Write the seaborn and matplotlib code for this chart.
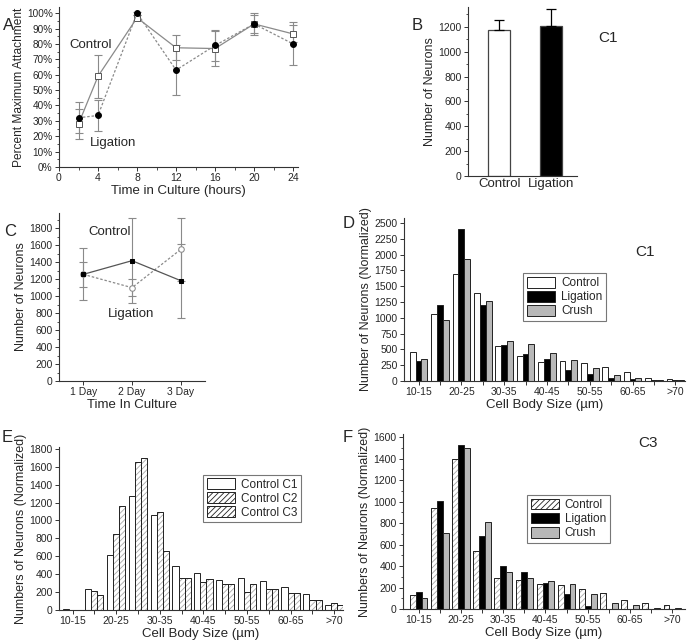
import numpy as np
import pandas as pd
import matplotlib
matplotlib.use("Agg")
import matplotlib.pyplot as plt
import seaborn as sns
from matplotlib.patches import Patch, Rectangle
from matplotlib.ticker import MultipleLocator, PercentFormatter

# ---------------- data ----------------
hours = [2, 4, 8, 12, 16, 20, 24]
attach_control = [28, 59, 97, 77.5, 77, 93, 86.5]
attach_control_err = [9.5, 14, 1.5, 8.2, 11.5, 7, 5.5]
attach_ligation = [32, 33.5, 100, 63, 79, 93, 80]
attach_ligation_err = [10, 10, 1, 16.5, 10, 6, 14]

b_groups = ["Control", "Ligation"]
b_values = [1175, 1205]
b_err = [80, 140]

days = ["1 Day", "2 Day", "3 Day"]
day_control = [1257, 1418, 1183]
day_control_err = [305, 500, 436]
day_ligation = [1257, 1100, 1550]
day_ligation_err = [150, 100, 375]

size_cats = ["10-15", "15-20", "20-25", "25-30", "30-35", "35-40", "40-45",
             "45-50", "50-55", "55-60", "60-65", "65-70", ">70"]

d_control = [460, 1060, 1690, 1400, 547, 390, 305, 318, 286, 224, 146, 42, 26]
d_ligation = [318, 1210, 2410, 1210, 568, 432, 354, 172, 104, 52, 26, 14, 8]
d_crush = [354, 960, 1930, 1270, 640, 578, 436, 339, 198, 89, 42, 10, 14]

e_c1 = [10, 230, 615, 1270, 1060, 490, 410, 336, 354, 325, 261, 179, 56]
e_c2 = [0, 216, 847, 1653, 1097, 362, 310, 291, 205, 231, 187, 112, 75]
e_c3 = [0, 168, 1157, 1694, 664, 362, 343, 291, 291, 239, 187, 112, 56]

f_control = [131, 941, 1393, 539, 287, 271, 231, 225, 184, 146, 84, 53, 37]
f_ligation = [162, 1009, 1523, 676, 396, 340, 240, 140, 28, 0, 0, 0, 0]
f_crush = [103, 707, 1502, 810, 343, 293, 262, 234, 140, 53, 37, 12, 12]

# ---------------- style ----------------
sns.set_theme(style="ticks")
plt.rcParams["font.family"] = ["Liberation Sans", "DejaVu Sans"]
plt.rcParams["hatch.linewidth"] = 0.6
plt.rcParams["axes.linewidth"] = 0.8

SPINE = "#333333"
TICK_FS = 7.5
LAB_FS = 9
GRAY = "#8a8a8a"

fig = plt.figure(figsize=(6.9, 6.42), dpi=100)


def px_axes(x0, x1, ytop, ybot):
    W, H = 690.0, 642.0
    return fig.add_axes([x0 / W, (H - ybot) / H, (x1 - x0) / W, (ybot - ytop) / H])


def style(ax):
    sns.despine(ax=ax)
    for s in ("left", "bottom"):
        ax.spines[s].set_color(SPINE)
        ax.spines[s].set_linewidth(0.8)
    ax.tick_params(axis="both", which="major", length=3, width=0.7,
                   color=SPINE, labelsize=TICK_FS, pad=1.5, direction="out")
    ax.tick_params(axis="both", which="minor", length=1.8, width=0.6,
                   color=SPINE, direction="out")
    ax.set_facecolor("white")


def letter(x, y, s):
    fig.text(x / 690.0, 1 - y / 642.0, s, fontsize=12, ha="left", va="center")


# ---------------- Panel A ----------------
axA = px_axes(59, 298, 7, 167)
style(axA)
axA.errorbar(hours, attach_control, yerr=attach_control_err, fmt="none",
             ecolor=GRAY, elinewidth=0.8, capsize=3, capthick=0.8, zorder=1)
axA.errorbar(hours, attach_ligation, yerr=attach_ligation_err, fmt="none",
             ecolor=GRAY, elinewidth=0.8, capsize=3, capthick=0.8, zorder=1)
sns.lineplot(x=hours, y=attach_control, ax=axA, color=GRAY, linewidth=0.9,
             marker="s", markersize=4, markerfacecolor="white",
             markeredgecolor="#555555", markeredgewidth=0.7, zorder=3)
sns.lineplot(x=hours, y=attach_ligation, ax=axA, color=GRAY, linewidth=0.9,
             linestyle=(0, (2, 1.5)), marker="o", markersize=4.2,
             markerfacecolor="black", markeredgecolor="black", zorder=4)
axA.set_xlim(0, 24.5)
axA.set_ylim(0, 104)
axA.set_xticks([0, 4, 8, 12, 16, 20, 24])
axA.xaxis.set_minor_locator(MultipleLocator(2))
axA.set_yticks(np.arange(0, 101, 10))
axA.yaxis.set_major_formatter(PercentFormatter(decimals=0))
axA.yaxis.set_minor_locator(MultipleLocator(5))
axA.tick_params(axis="y", labelsize=7.2)
axA.set_xlabel("Time in Culture (hours)", fontsize=9.5, labelpad=1)
axA.set_ylabel("Percent Maximum Attachment", fontsize=8.6, labelpad=1)
axA.text(3.2, 79.6, "Control", fontsize=9.5, ha="center", va="center")
axA.text(5.5, 15.8, "Ligation", fontsize=9.5, ha="center", va="center")
letter(3, 26, "A")

# ---------------- Panel B ----------------
axB = px_axes(468, 577, 7, 176)
style(axB)
sns.barplot(x=b_groups, y=b_values, hue=b_groups, palette=["white", "black"],
            saturation=1, width=0.42, edgecolor="#444444", linewidth=0.9,
            ax=axB, legend=False)
axB.errorbar(range(len(b_groups)), b_values,
             yerr=[[0] * len(b_err), b_err], fmt="none", ecolor="black",
             elinewidth=0.9, capsize=3.5, capthick=0.9)
axB.set_xlim(-0.6, 1.5)
axB.set_ylim(0, 1360)
axB.set_yticks(np.arange(0, 1201, 200))
axB.yaxis.set_minor_locator(MultipleLocator(100))
axB.tick_params(axis="x", labelsize=9.5, length=0)
axB.set_xlabel("")
axB.set_ylabel("Number of Neurons", fontsize=LAB_FS, labelpad=2)
fig.text(608 / 690, 1 - 38 / 642, "C1", fontsize=11, ha="center", va="center")
letter(412, 26, "B")

# ---------------- Panel C ----------------
axC = px_axes(59, 205, 213, 381)
style(axC)
xpos = np.arange(1, len(days) + 1)
axC.errorbar(xpos, day_control, yerr=day_control_err, fmt="none",
             ecolor=GRAY, elinewidth=0.8, capsize=3, capthick=0.8, zorder=1)
axC.errorbar(xpos, day_ligation, yerr=day_ligation_err, fmt="none",
             ecolor=GRAY, elinewidth=0.8, capsize=3, capthick=0.8, zorder=1)
sns.lineplot(x=xpos, y=day_control, ax=axC, color="#555555", linewidth=0.9,
             marker="s", markersize=3.5, markerfacecolor="black",
             markeredgecolor="black", zorder=3)
sns.lineplot(x=xpos, y=day_ligation, ax=axC, color=GRAY, linewidth=0.9,
             linestyle=(0, (2, 1.5)), marker="o", markersize=4,
             markerfacecolor="white", markeredgecolor=GRAY, zorder=2)
axC.set_xlim(0.5, 3.5)
axC.set_ylim(0, 1980)
axC.set_xticks(xpos)
axC.set_xticklabels(days)
axC.set_yticks(np.arange(0, 1801, 200))
axC.yaxis.set_minor_locator(MultipleLocator(100))
axC.set_xlabel("Time In Culture", fontsize=9.5, labelpad=1)
axC.set_ylabel("Number of Neurons", fontsize=LAB_FS, labelpad=2)
axC.text(1.53, 1753, "Control", fontsize=9.5, ha="center", va="center")
axC.text(1.98, 788, "Ligation", fontsize=9.5, ha="center", va="center")
letter(4, 232, "C")


# ---------------- grouped histogram helper ----------------
def grouped(ax, names, series, colors, hatches, width):
    rows = []
    for nm, vals in zip(names, series):
        for c, v in zip(size_cats, vals):
            rows.append({"size": c, "n": v, "grp": nm})
    df = pd.DataFrame(rows)
    sns.barplot(data=df, x="size", y="n", hue="grp", order=size_cats,
                hue_order=names, palette=colors, saturation=1, width=width,
                edgecolor="#222222", linewidth=0.7, ax=ax, legend=False)
    for cont, h in zip(ax.containers, hatches):
        if h:
            for p in cont.patches:
                p.set_hatch(h)
                p.set_edgecolor("#a8a8a8")
                ax.add_patch(Rectangle(p.get_xy(), p.get_width(), p.get_height(),
                                       fill=False, edgecolor="#222222",
                                       linewidth=0.7, zorder=p.get_zorder() + 0.1))
    ax.set_xticks(range(len(size_cats)))
    ax.set_xticklabels([c if i % 2 == 0 else "" for i, c in enumerate(size_cats)])
    ax.set_xlabel("Cell Body Size (\u00b5m)", fontsize=9.5, labelpad=1)
    handles = [Patch(facecolor=col, edgecolor="#222222", hatch=h, linewidth=0.7)
               for col, h in zip(colors, hatches)]
    return handles


def add_legend(ax, handles, names, x, ytop):
    leg = ax.legend(handles, names, loc="upper left", bbox_to_anchor=(x, ytop),
                    frameon=True, fancybox=False, edgecolor="#555555",
                    fontsize=8.5, handlelength=2.4, handleheight=1.0,
                    handletextpad=0.5, borderpad=0.3, labelspacing=0.15,
                    borderaxespad=0)
    leg.get_frame().set_linewidth(0.8)


# ---------------- Panel D ----------------
axD = px_axes(404, 685, 218, 381)
style(axD)
names_d = ["Control", "Ligation", "Crush"]
hD = grouped(axD, names_d, [d_control, d_ligation, d_crush],
             ["white", "black", "#b8b8b8"], [None, None, None], 0.82)
axD.set_xlim(-0.68, 12.45)
axD.set_ylim(0, 2580)
axD.set_yticks(np.arange(0, 2501, 250))
axD.set_ylabel("Number of Neurons (Normalized)", fontsize=LAB_FS, labelpad=2)
add_legend(axD, hD, names_d, 0.425, 0.66)
fig.text(645 / 690, 1 - 252 / 642, "C1", fontsize=11, ha="center", va="center")
letter(343, 223, "D")

# ---------------- Panel E ----------------
axE = px_axes(59, 343, 447, 610)
style(axE)
names_e = ["Control C1", "Control C2", "Control C3"]
hE = grouped(axE, names_e, [e_c1, e_c2, e_c3],
             ["white", "white", "white"], [None, "//////", "//////"], 0.84)
axE.set_xlim(-0.62, 12.4)
axE.set_ylim(0, 1820)
axE.set_yticks(np.arange(0, 1801, 200))
axE.set_ylabel("Numbers of Neurons (Normalized)", fontsize=LAB_FS, labelpad=2)
add_legend(axE, hE, names_e, 0.507, 0.83)
letter(2, 438, "E")

# ---------------- Panel F ----------------
axF = px_axes(403, 685, 434, 609)
style(axF)
names_f = ["Control", "Ligation", "Crush"]
hF = grouped(axF, names_f, [f_control, f_ligation, f_crush],
             ["white", "black", "#b8b8b8"], ["//////", None, None], 0.83)
axF.set_xlim(-0.74, 12.6)
axF.set_ylim(0, 1630)
axF.set_yticks(np.arange(0, 1601, 200))
axF.yaxis.set_minor_locator(MultipleLocator(100))
axF.set_ylabel("Numbers of Neurons (Normalized)", fontsize=LAB_FS, labelpad=2)
add_legend(axF, hF, names_f, 0.44, 0.65)
fig.text(648 / 690, 1 - 443 / 642, "C3", fontsize=11, ha="center", va="center")
letter(343, 438, "F")

fig.savefig("out.png", dpi=100, facecolor="white")
